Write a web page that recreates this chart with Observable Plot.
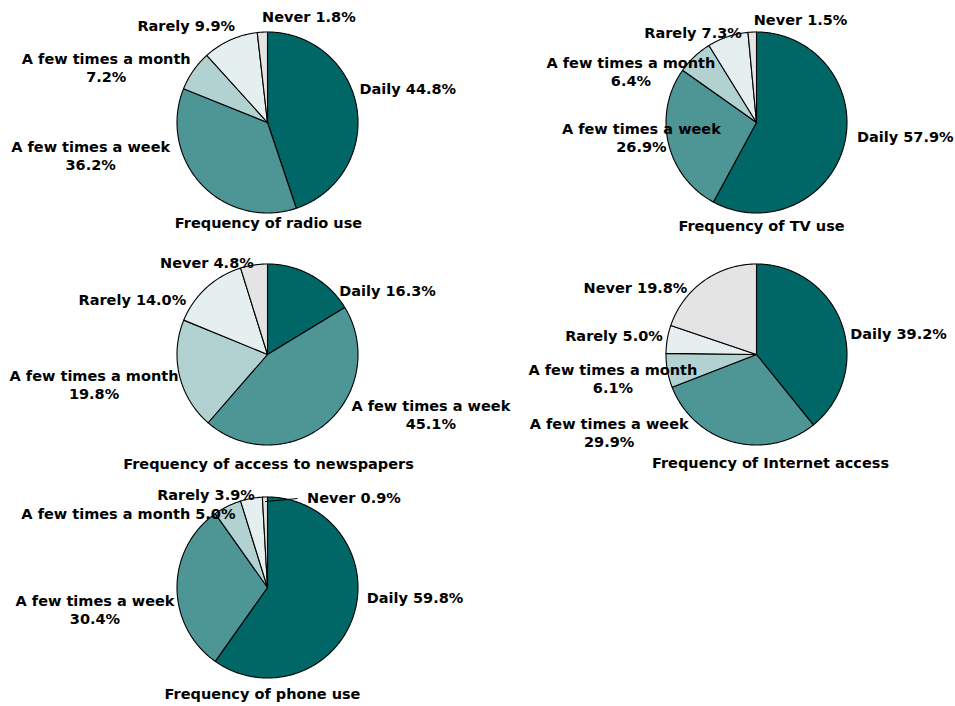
<!DOCTYPE html>
<html>
<head>
<meta charset="utf-8">
<script src="https://cdn.jsdelivr.net/npm/d3@7"></script>
<script src="https://cdn.jsdelivr.net/npm/@observablehq/plot@0.6"></script>
<style>
  html, body { margin: 0; padding: 0; background: #ffffff; }
  #chart { position: relative; width: 955px; height: 706px; background: #ffffff; font-family: "DejaVu Sans", sans-serif; }
  .frame { position: absolute; }
  .frame svg { overflow: visible; background: transparent; }
</style>
</head>
<body>
<div id="chart"></div>
<script>
// ---------- data ----------
const categories = ["Daily", "A few times a week", "A few times a month", "Rarely", "Never"];
const radioValues     = [44.8, 36.2, 7.2, 9.9, 1.8];
const tvValues        = [57.9, 26.9, 6.4, 7.3, 1.5];
const newspaperValues = [16.3, 45.1, 19.8, 14.0, 4.8];
const internetValues  = [39.2, 29.9, 6.1, 5.0, 19.8];
const phoneValues     = [59.8, 30.4, 5.0, 3.9, 0.9];
const chartTitles = ["Frequency of radio use", "Frequency of TV use", "Frequency of access to newspapers",
                     "Frequency of Internet access", "Frequency of phone use"];

// ---------- styling / layout ----------
const sliceColors = ["#006666", "#4e9595", "#b2d1d1", "#e5efef", "#e4e4e4"];
const R = 90.5; // pie radius in px
const FONT = "DejaVu Sans";
const FS = 14.5;

// frame: left, top, width, height, local centre
const layouts = [
  {values: radioValues, title: chartTitles[0], frame: [0, 0, 477, 235], c: [267, 122],
   nudges: [[51, -20], [-111, -29], [-87, -4], [-44, -15], [46.5, -15.6]], split: [0, 1, 1, 0, 0], titleNudge: [1, 10.5]},
  {values: tvValues, title: chartTitles[1], frame: [477, 0, 478, 235], c: [279, 122],
   nudges: [[61, -8], [-27, -5.6], [-63.6, 15], [-34.7, -4], [48.3, -12.6]], split: [0, 1, 1, 0, 0], titleNudge: [5, 13.5]},
  {values: newspaperValues, title: chartTitles[2], frame: [0, 235, 477, 235], c: [267, 119],
   nudges: [[75.7, 15], [105, -9], [-85.4, 9], [-74, 11.7], [-47, -2.5]], split: [0, 1, 1, 0, 0], titleNudge: [1, 19.5]},
  {values: internetValues, title: chartTitles[3], frame: [477, 235, 478, 235], c: [279, 119],
   nudges: [[56.7, 9], [-124, -10], [-54.5, 7.4], [-53.3, -3.7], [-68.3, 6.5]], split: [0, 1, 1, 0, 0], titleNudge: [14, 18.5]},
  {values: phoneValues, title: chartTitles[4], frame: [0, 470, 477, 236], c: [267, 117],
   nudges: [[61.3, -17.4], [-82, 22], [-99, 7], [-45.4, -4], [89, 0.5]], split: [0, 1, 0, 0, 0], titleNudge: [-5, 16.5],
   leader: {index: 4, end: [32.6, 1.5]}}
];

const container = document.getElementById("chart");

for (const L of layouts) {
  const [left, top, W, H] = L.frame;
  const [cx, cy] = L.c;
  const rows = categories.map((cat, i) => ({cat, value: L.values[i], i}));
  const arcs = d3.pie().sort(null).value(d => d.value).startAngle(0).endAngle(2 * Math.PI)(rows);

  // slice polygons (x = sin, y = cos : 0 at 12 o'clock, clockwise)
  const pts = [];
  for (const a of arcs) {
    const cat = a.data.cat;
    pts.push({cat, x: 0, y: 0});
    const n = Math.max(2, Math.ceil((a.endAngle - a.startAngle) / 0.01));
    for (let k = 0; k <= n; k++) {
      const t = a.startAngle + (a.endAngle - a.startAngle) * k / n;
      pts.push({cat, x: Math.sin(t), y: Math.cos(t)});
    }
  }

  const marks = [
    Plot.line(pts, {x: "x", y: "y", z: "cat", fill: "cat", stroke: "#000", strokeWidth: 1.1,
                    curve: "linear-closed", strokeLinejoin: "round"})
  ];

  arcs.forEach((a, i) => {
    const mid = (a.startAngle + a.endAngle) / 2;
    const v = a.data.value.toFixed(1) + "%";
    const text = L.split[i] ? `${a.data.cat}\n${v}` : `${a.data.cat} ${v}`;
    marks.push(Plot.text([{x: Math.sin(mid), y: Math.cos(mid), text}], {
      x: "x", y: "y", text: "text", dx: L.nudges[i][0], dy: L.nudges[i][1],
      textAnchor: "middle", lineAnchor: "middle", lineHeight: 1.24,
      fontSize: FS, fontWeight: "bold", fill: "#000"
    }));
  });

  if (L.leader) {
    const a = arcs[L.leader.index];
    const mid = (a.startAngle + a.endAngle) / 2;
    marks.push(Plot.link([{
      x1: 0.95 * Math.sin(mid), y1: 0.95 * Math.cos(mid),
      x2: Math.sin(mid) + L.leader.end[0] / R, y2: Math.cos(mid) - L.leader.end[1] / R
    }], {x1: "x1", y1: "y1", x2: "x2", y2: "y2", stroke: "#000", strokeWidth: 1}));
  }

  marks.push(Plot.text([{x: 0, y: -1, text: L.title}], {
    x: "x", y: "y", text: "text", dx: L.titleNudge[0], dy: L.titleNudge[1],
    textAnchor: "middle", lineAnchor: "middle", fontSize: FS, fontWeight: "bold", fill: "#000"
  }));

  const plot = Plot.plot({
    width: W, height: H,
    margin: 0,
    x: {domain: [-cx / R, (W - cx) / R], axis: null},
    y: {domain: [(cy - H) / R, cy / R], axis: null},
    color: {domain: categories, range: sliceColors},
    style: {fontFamily: FONT, fontSize: FS + "px", background: "transparent", overflow: "visible"},
    marks
  });

  const div = document.createElement("div");
  div.className = "frame";
  div.style.left = left + "px";
  div.style.top = top + "px";
  div.style.width = W + "px";
  div.style.height = H + "px";
  div.appendChild(plot);
  container.appendChild(div);
}
</script>
</body>
</html>
